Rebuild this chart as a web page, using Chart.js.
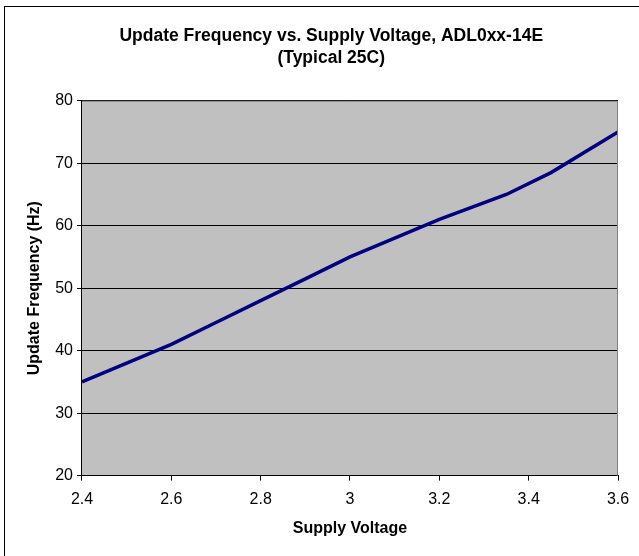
<!DOCTYPE html>
<html>
<head>
<meta charset="utf-8">
<script src="https://cdn.jsdelivr.net/npm/chart.js@4/dist/chart.umd.min.js"></script>
<style>
  html, body { margin: 0; padding: 0; background: #fff; }
  #wrap { width: 639px; height: 556px; }
</style>
</head>
<body>
<div id="wrap"><canvas id="freqChart" width="639" height="556"></canvas></div>
<script>
// Valeurs
const voltage = [2.4, 2.5, 2.6, 2.7, 2.8, 2.9, 3.0, 3.1, 3.2, 3.35, 3.45, 3.6];
const frequency = [35, 38, 41, 44.5, 48, 51.5, 55, 58, 61, 65, 68.5, 75];
const xTicks = [2.4, 2.6, 2.8, 3.0, 3.2, 3.4, 3.6];
const yTicks = [20, 30, 40, 50, 60, 70, 80];

const points = voltage.map((v, i) => ({ x: v, y: frequency[i] }));

// fond gris de la zone de tracé + cadre extérieur
const plotBackground = {
    id: 'plotBackground',
    beforeDraw(chart) {
        const a = chart.chartArea;
        const c = chart.ctx;
        c.save();
        c.fillStyle = '#c0c0c0';
        c.fillRect(a.left, a.top, a.right - a.left, a.bottom - a.top);
        c.restore();
    },
    afterDraw(chart) {
        const a = chart.chartArea;
        const c = chart.ctx;
        c.save();
        c.strokeStyle = '#808080';
        c.lineWidth = 1;
        c.beginPath();
        c.moveTo(a.left, a.top + 0.5);
        c.lineTo(a.right - 0.5, a.top + 0.5);
        c.lineTo(a.right - 0.5, a.bottom);
        c.stroke();
        c.strokeStyle = '#000';
        c.strokeRect(4.5, 6.5, 800, 800);
        c.restore();
    }
};

// le titre est un peu décalé vers la droite dans l'original
const pad = '    ';

const ctx = document.getElementById('freqChart').getContext('2d');
const freqChart = new Chart(ctx, {
    type: 'line',
    data: {
        datasets: [{
            label: 'Update Frequency',
            data: points,
            borderColor: '#000080',
            borderWidth: 3.5,
            pointRadius: 0,
            tension: 0,
            fill: false
        }]
    },
    options: {
        responsive: false,
        animation: false,
        layout: { padding: { left: 25, right: 21, top: 6, bottom: 18 } },
        font: { family: 'Liberation Sans, Arial, sans-serif' },
        plugins: {
            legend: { display: false },
            tooltip: { enabled: false },
            title: {
                display: true,
                text: [pad + 'Update Frequency vs. Supply Voltage, ADL0xx-14E', pad + '(Typical 25C)'],
                color: '#000',
                font: { family: 'Liberation Sans, Arial, sans-serif', size: 17.5, weight: 'bold', lineHeight: 1.25 },
                padding: { top: 19, bottom: 32 }
            }
        },
        scales: {
            x: {
                type: 'linear',
                min: 2.4,
                max: 3.6,
                afterBuildTicks(axis) { axis.ticks = xTicks.map(v => ({ value: v })); },
                ticks: {
                    color: '#000',
                    font: { family: 'Liberation Sans, Arial, sans-serif', size: 16 },
                    padding: 9,
                    maxRotation: 0,
                    callback: v => String(v)
                },
                grid: { drawOnChartArea: false, color: '#000', tickLength: 5 },
                border: { color: '#000', width: 1 },
                title: {
                    display: true,
                    text: 'Supply Voltage',
                    color: '#000',
                    font: { family: 'Liberation Sans, Arial, sans-serif', size: 16, weight: 'bold' },
                    padding: { top: 1, bottom: 0 }
                }
            },
            y: {
                min: 20,
                max: 80,
                afterBuildTicks(axis) { axis.ticks = yTicks.map(v => ({ value: v })); },
                ticks: {
                    color: '#000',
                    font: { family: 'Liberation Sans, Arial, sans-serif', size: 16 },
                    padding: 4
                },
                grid: { color: '#000', tickLength: 5, lineWidth: 1 },
                border: { color: '#000', width: 1 },
                title: {
                    display: true,
                    text: 'Update Frequency (Hz)',
                    color: '#000',
                    font: { family: 'Liberation Sans, Arial, sans-serif', size: 16, weight: 'bold' },
                    padding: { top: 0, bottom: 7 }
                }
            }
        }
    },
    plugins: [plotBackground]
});
</script>
</body>
</html>
